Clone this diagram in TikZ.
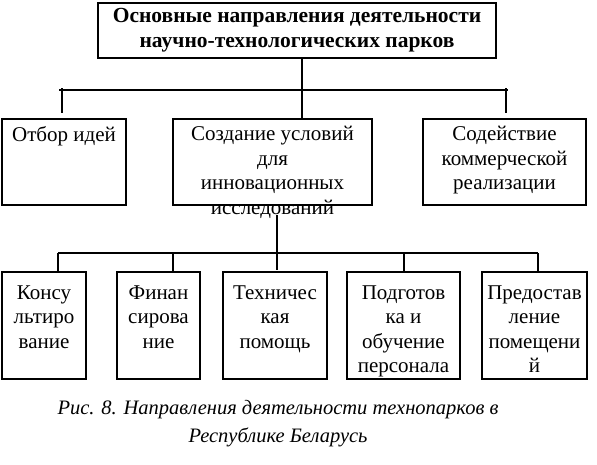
\documentclass[tikz,border=0pt]{standalone}
\usepackage{fontspec}
\setmainfont{Liberation Serif}
\begin{document}
\begin{tikzpicture}[x=1pt,y=-1pt,line width=1.1pt,
  box/.style={draw, inner sep=0pt, outer sep=0pt, anchor=north west},
  txt/.style={align=center, inner sep=0pt, anchor=north, font=\fontsize{21}{24.5}\selectfont},
  wire/.style={line width=1.1pt},
]
\useasboundingbox (0,0) rectangle (597,464);
% top
\node[box, minimum width=398, minimum height=55, align=center,
      font=\fontsize{21.5}{25}\selectfont\bfseries] (top) at (98,3)
  {Основные направления деятельности\\научно-технологических парков};
% row 2
\node[box, minimum width=124, minimum height=86] (b1) at (2,119) {};
\node[box, minimum width=199, minimum height=86] (b2) at (173,119) {};
\node[box, minimum width=163, minimum height=86] (b3) at (423,119) {};
\node[txt] (t1) at ([yshift=-7]b1.north) {Отбор идей};
\node[txt] (t2) at ([yshift=-7]b2.north) {Создание условий\\для\\инновационных\\исследований};
\node[txt] (t3) at ([yshift=-7]b3.north) {Содействие\\коммерческой\\реализации};
% row 3
\node[box, minimum width=84, minimum height=107] (c1) at (2,272) {};
\node[box, minimum width=83, minimum height=107] (c2) at (117,272) {};
\node[box, minimum width=104, minimum height=107] (c3) at (223,272) {};
\node[box, minimum width=113, minimum height=107] (c4) at (347,272) {};
\node[box, minimum width=105, minimum height=107] (c5) at (482,272) {};
\node[txt] (u1) at ([yshift=-13]c1.north) {Консу\\льтиро\\вание};
\node[txt] (u2) at ([yshift=-13]c2.north) {Финан\\сирова\\ние};
\node[txt] (u3) at ([yshift=-13]c3.north) {Техничес\\кая\\помощь};
\node[txt] (u4) at ([yshift=-13]c4.north) {Подготов\\ка и\\обучение\\персонала};
\node[txt] (u5) at ([yshift=-13]c5.north) {Предостав\\ление\\помещени\\й};
% bus 1
\coordinate (busL) at (59,90);
\coordinate (busR) at (508,90);
\coordinate (k1) at (62,88);
\coordinate (k3) at (506,88);
\draw[wire] (top.south -| 302,0) -- (302,119);
\draw[wire] (busL) -- (busR);
\draw[wire] (k1) -- (62,113);
\draw[wire] (k3) -- (506,113);
% bus 2
\coordinate (s2) at (277,215);
\coordinate (bus2L) at (58,253);
\coordinate (bus2R) at (538,253);
\draw[wire] (s2) -- (277,270);
\draw[wire] (bus2L) -- (bus2R);
\draw[wire] (bus2L) -- (58,272);
\draw[wire] (173,253) -- (173,272);
\draw[wire] (404,253) -- (404,272);
\draw[wire] (bus2R) -- (538,272);
% caption
\node[font=\fontsize{20.5}{28}\selectfont\itshape, align=center, inner sep=0pt] (cap) at (278,424)
  {Рис. 8. Направления деятельности технопарков в\\Республике Беларусь};
\end{tikzpicture}
\end{document}
